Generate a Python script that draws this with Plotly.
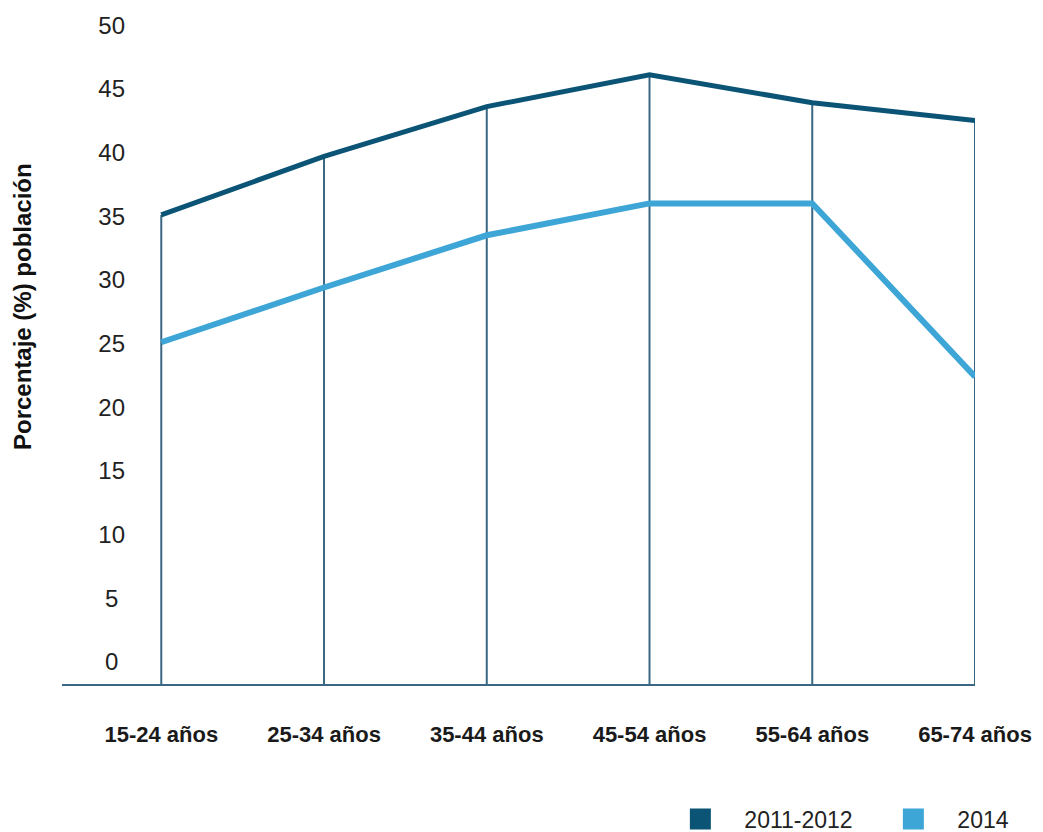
import plotly.graph_objects as go

# Age groups and share of population (%) for each survey wave
grupos_edad = ["15-24 años", "25-34 años", "35-44 años", "45-54 años", "55-64 años", "65-74 años"]
serie_2011_2012 = [35.1, 39.7, 43.6, 46.1, 43.9, 42.5]
serie_2014 = [25.1, 29.4, 33.5, 36.0, 36.0, 22.4]

nombres_series = ["2011-2012", "2014"]
tick_valores = [0, 5, 10, 15, 20, 25, 30, 35, 40, 45, 50]
tick_textos = ["0", "5", "10", "15", "20", "25", "30", "35", "40", "45", "50"]

COLOR_OSCURO = "#0b5475"
COLOR_CLARO = "#3ea6d6"
COLOR_EJE = "#3a6783"

Y_MIN, Y_MAX = -1.73, 51.5
X_MIN, X_MAX = -0.61, 5.0

# Single-digit labels get a no-break space so they sit centred with the two-digit ones
etiquetas_y = [t + "\u00a0" if len(t) == 1 else t for t in tick_textos]

fig = go.Figure()

# Vertical drop lines from each point of the upper series down to the baseline
idx = list(range(len(grupos_edad)))
gota_x, gota_y = [], []
for i, v in zip(idx, serie_2011_2012):
    gota_x += [i, i, None]
    gota_y += [Y_MIN, v, None]
fig.add_trace(go.Scatter(
    x=gota_x, y=gota_y, mode="lines",
    line=dict(color=COLOR_EJE, width=2),
    showlegend=False, hoverinfo="skip", cliponaxis=False,
))

for nombre, valores, color, ancho in [
    (nombres_series[0], serie_2011_2012, COLOR_OSCURO, 5),
    (nombres_series[1], serie_2014, COLOR_CLARO, 6),
]:
    fig.add_trace(go.Scatter(
        x=idx, y=valores, mode="lines", name=nombre,
        line=dict(color=color, width=ancho),
        showlegend=False, cliponaxis=False,
    ))
    # Square legend key
    fig.add_trace(go.Scatter(
        x=[None], y=[None], mode="markers", name=nombre,
        marker=dict(symbol="square", size=16, color=color,
                    line=dict(color=color, width=5)),
    ))

fig.update_layout(
    width=1043, height=832,
    margin=dict(l=62, r=68, t=6, b=148, autoexpand=False),
    paper_bgcolor="white", plot_bgcolor="white",
    font=dict(family="Liberation Sans, Arial, sans-serif", color="#222222"),
    showlegend=True,
    legend=dict(
        orientation="h", x=0.651, xanchor="left", y=-0.1675, yanchor="top",
        font=dict(size=23, color="#222222"),
        itemwidth=78, bgcolor="rgba(0,0,0,0)",
        entrywidth=120,
    ),
    xaxis=dict(
        range=[X_MIN, X_MAX],
        tickmode="array", tickvals=idx, ticktext=grupos_edad,
        showgrid=False, zeroline=False,
        showline=True, linecolor=COLOR_EJE, linewidth=2,
        ticks="", ticklabelstandoff=30,
        tickfont=dict(size=22, color="#1a1a1a", family="Liberation Sans, Arial, sans-serif", weight="bold"),
    ),
    yaxis=dict(
        range=[Y_MIN, Y_MAX],
        tickmode="array", tickvals=tick_valores, ticktext=etiquetas_y,
        showgrid=False, zeroline=False, showline=False, ticks="",
        anchor="free", position=0.069,
        tickfont=dict(size=24, color="#222222"),
    ),
    annotations=[dict(
        text="<b>Porcentaje (%) población</b>", textangle=-90,
        xref="paper", yref="paper", x=-0.0438, y=0.556,
        xanchor="center", yanchor="middle", showarrow=False,
        font=dict(size=24, color="#111111"),
    )],
)

fig.write_html("out.html")
